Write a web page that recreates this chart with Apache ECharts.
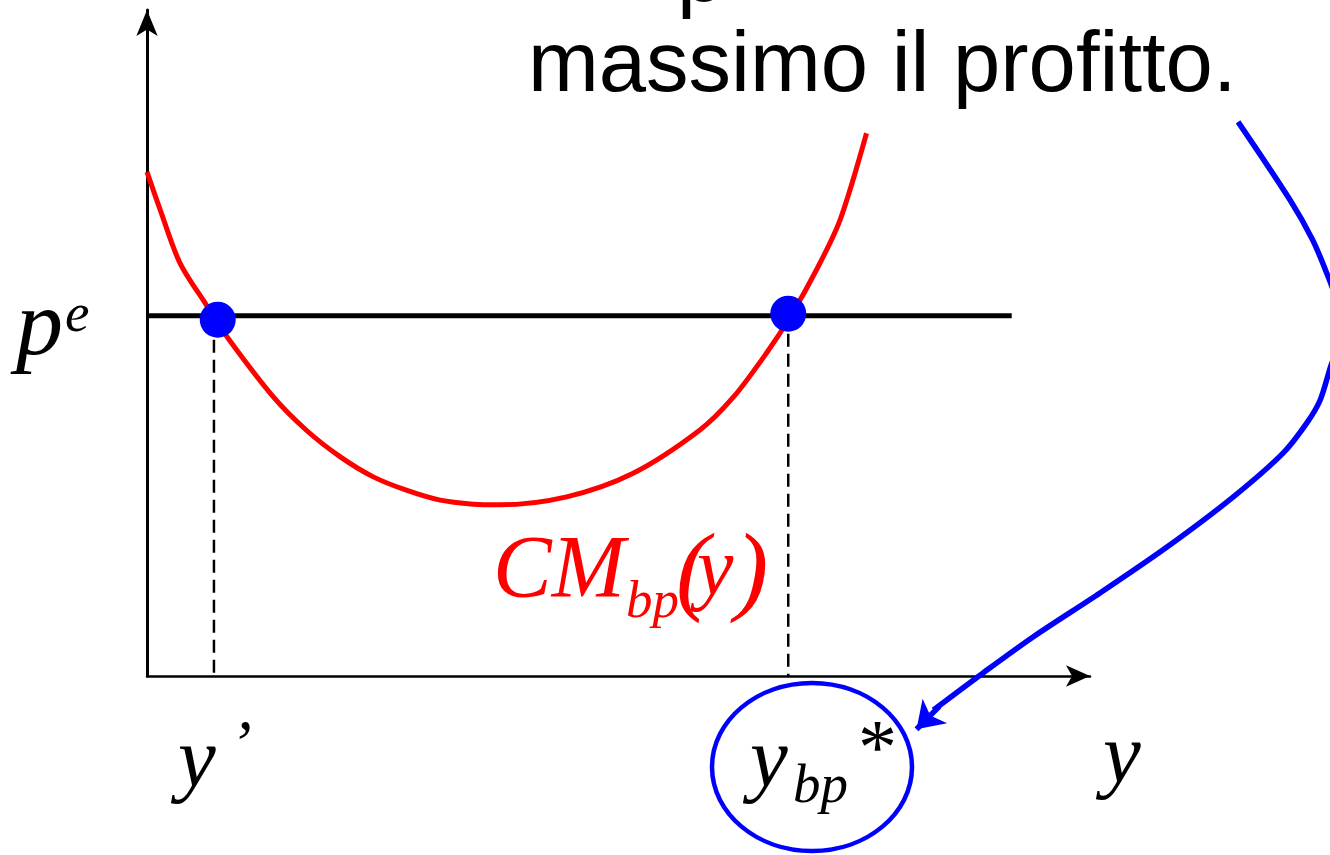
<!DOCTYPE html>
<html>
<head>
<meta charset="utf-8">
<script src="https://cdn.jsdelivr.net/npm/echarts@6/dist/echarts.min.js"></script>
<style>
  html, body { margin: 0; padding: 0; background: #fff; }
  #chart { width: 1330px; height: 855px; }
</style>
</head>
<body>
<div id="chart"></div>
<script>
// average cost curve CM_bp(y)
var costCurve = [
  [0, 7.57], [0.14, 7.00], [0.35, 6.20], [0.63, 5.57], [0.85, 5.09], [1.34, 4.19],
  [1.69, 3.69], [2.05, 3.29], [2.40, 2.99], [2.75, 2.79], [3.11, 2.64], [3.46, 2.58],
  [3.74, 2.57], [4.45, 2.69], [5.15, 3.04], [5.86, 3.69], [6.22, 4.19], [6.57, 4.85],
  [6.82, 5.39], [7.10, 6.10], [7.35, 6.85], [7.63, 8.15]
];
// price line p^e
var priceLine = [[0, 5.41], [9.17, 5.41]];
// intersections (y', y_bp*)
var crossPoints = [[0.75, 5.35], [6.80, 5.44]];
var dropLeft = [[0.71, 5.35], [0.71, 0]];
var dropRight = [[6.80, 5.44], [6.80, 0]];
// blue annotation arrow (same units, drawn on a wider hidden grid)
var arrowCurve = [
  [11.57, 8.32], [12.12, 7.15], [12.36, 6.55], [12.51, 6.05], [12.61, 5.65],
  [12.64, 5.27], [12.61, 4.89], [12.55, 4.64], [12.44, 4.14], [12.30, 3.80], [12.05, 3.35],
  [11.52, 2.69], [10.82, 1.94], [10.11, 1.25], [9.40, 0.59], [8.87, 0.05], [8.34, -0.51]
];
var arrowHead = [[8.40, -0.46], [8.16, -0.80]];

var chart = echarts.init(document.getElementById('chart'));

var serif = '"Liberation Serif", "Times New Roman", serif';
var sans = '"Liberation Sans", Arial, sans-serif';

// text placed by its baseline
function txt(str, x, baseline, size, family, italic, color) {
  return {
    type: 'text',
    z: 100,
    style: {
      text: str,
      x: x,
      y: baseline - 0.34 * size,
      font: (italic ? 'italic ' : '') + size + 'px ' + family,
      fill: color || '#000',
      verticalAlign: 'middle',
      align: 'left'
    }
  };
}

var hiddenAxis = {
  axisLine: {show: false}, axisTick: {show: false}, axisLabel: {show: false}, splitLine: {show: false}
};

var option = {
  backgroundColor: '#fff',
  animation: false,
  grid: [
    {left: 147, top: 10, width: 943, height: 666},
    {left: 147, top: 10, width: 1183, height: 11.2 * 66.6}
  ],
  xAxis: [
    {
      type: 'value', min: 0, max: 10, gridIndex: 0,
      axisLine: {lineStyle: {color: '#000', width: 2.5}, symbol: ['none', 'arrow'], symbolSize: [16, 24], symbolOffset: [0, 0]},
      axisTick: {show: false}, axisLabel: {show: false}, splitLine: {show: false}
    },
    Object.assign({type: 'value', min: 0, max: 1183 / 94.3, gridIndex: 1}, hiddenAxis)
  ],
  yAxis: [
    {
      type: 'value', min: 0, max: 10, gridIndex: 0,
      axisLine: {lineStyle: {color: '#000', width: 3}, symbol: ['none', 'arrow'], symbolSize: [16, 26], symbolOffset: [0, 0]},
      axisTick: {show: false}, axisLabel: {show: false}, splitLine: {show: false}
    },
    Object.assign({type: 'value', min: -1.2, max: 10, gridIndex: 1}, hiddenAxis)
  ],
  series: [
    {type: 'line', data: dropLeft, symbol: 'none', lineStyle: {color: '#000', width: 2.5, type: [13, 7]}, z: 2},
    {type: 'line', data: dropRight, symbol: 'none', lineStyle: {color: '#000', width: 2.5, type: [13, 7]}, z: 2},
    {type: 'line', data: priceLine, symbol: 'none', lineStyle: {color: '#000', width: 5}, z: 3},
    {type: 'line', data: costCurve, symbol: 'none', smooth: 0.3, clip: false, lineStyle: {color: '#ff0000', width: 5}, z: 4},
    {type: 'scatter', data: crossPoints, symbolSize: 36, itemStyle: {color: '#0000ff', opacity: 1}, z: 6},
    {
      type: 'line', xAxisIndex: 1, yAxisIndex: 1, data: arrowCurve, symbol: 'none', smooth: 0.3, clip: false,
      lineStyle: {color: '#0000ff', width: 5.5}, z: 5
    },
    {
      type: 'lines', coordinateSystem: 'cartesian2d', xAxisIndex: 1, yAxisIndex: 1, z: 5,
      symbol: ['none', 'arrow'], symbolSize: 26,
      lineStyle: {color: '#0000ff', width: 5.5, opacity: 1},
      data: [{coords: arrowHead}]
    }
  ],
  graphic: [
    txt('p', 677, 6, 85, sans, false),
    txt('massimo il profitto.', 528, 96, 85, sans, false),
    txt('p', 16, 361, 94, serif, true),
    txt('e', 65, 335, 55, serif, true),
    txt('y', 178, 793, 85, serif, true),
    txt('\u2019', 230, 770, 65, serif, true),
    txt('y', 750, 793, 85, serif, true),
    txt('bp', 793, 806, 55, serif, true),
    txt('*', 858, 779, 78, serif, false),
    txt('y', 1103, 789, 85, serif, true),
    txt('CM', 493, 603, 88, serif, true, '#ff0000'),
    txt('bp', 626, 621, 53, serif, true, '#ff0000'),
    txt('(', 676, 610, 100, serif, true, '#ff0000'),
    txt('y', 697, 600, 82, serif, true, '#ff0000'),
    txt(')', 735, 610, 100, serif, true, '#ff0000'),
    {
      type: 'ellipse', z: 90,
      shape: {cx: 812, cy: 767, rx: 100, ry: 84},
      style: {fill: 'none', stroke: '#0000ff', lineWidth: 4.5}
    }
  ]
};

chart.setOption(option);
</script>
</body>
</html>
